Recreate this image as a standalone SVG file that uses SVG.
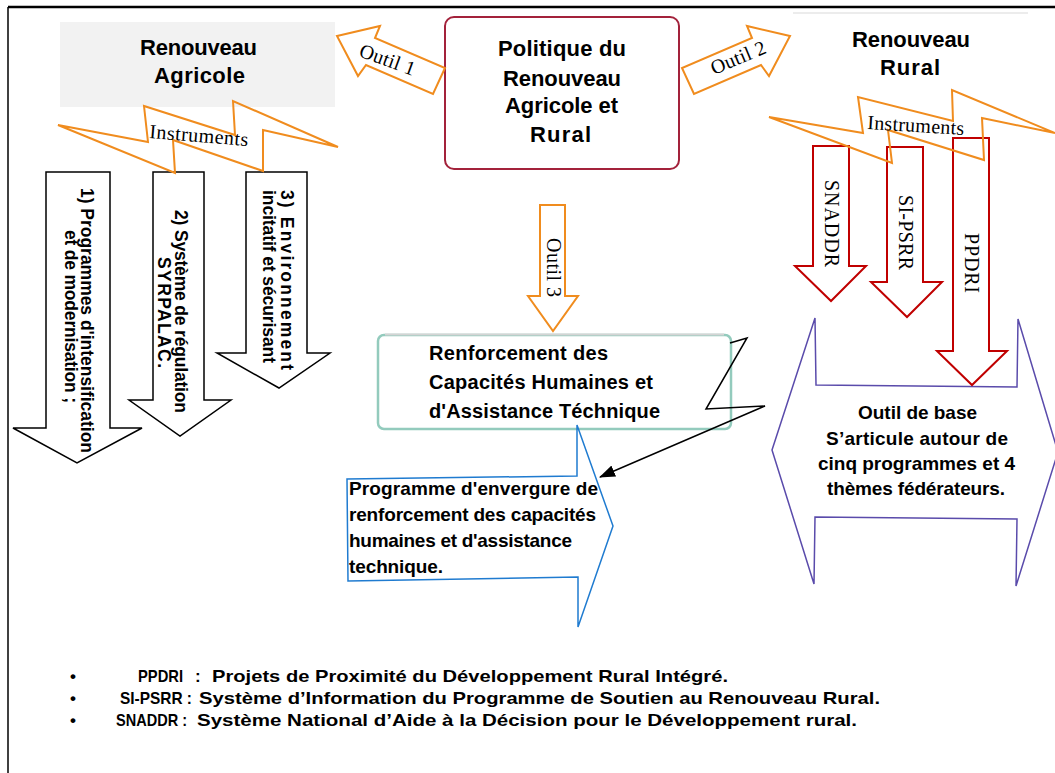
<svg xmlns="http://www.w3.org/2000/svg" width="1055" height="773" viewBox="0 0 1055 773">
<style>
.b{font-family:"Liberation Sans",Arial,sans-serif;font-weight:bold;fill:#000}
.t{font-family:"Liberation Serif","Times New Roman",serif;fill:#000;font-size:20px}
.or{fill:none;stroke:#f08c1e;stroke-width:2;stroke-linejoin:miter}
.orf{fill:#fff;stroke:#f08c1e;stroke-width:2}
.blk{fill:#fff;stroke:#000;stroke-width:1.5}
.red{fill:#fff;stroke:#c00000;stroke-width:2}
.h22{font-size:22px}
.h20{font-size:20px}
.h19{font-size:19px}
.v{font-size:17.5px}
.leg{font-size:17px}
</style>
<defs>
<marker id="ah" markerUnits="userSpaceOnUse" markerWidth="16" markerHeight="12" refX="15" refY="6" orient="auto">
<path d="M0,0 L16,6 L0,12 Z" fill="#000"/>
</marker>
</defs>
<rect x="0" y="0" width="1055" height="773" fill="#fff"/>
<g id="frame">
<line x1="8" y1="7" x2="1055" y2="7" stroke="#000" stroke-width="2.5"/>
<line x1="8" y1="7" x2="8" y2="773" stroke="#000" stroke-width="1.5"/>
</g>

<g id="renouveau-agricole">
<rect x="60" y="22" width="275" height="85" fill="#f2f2f2"/>
<text class="b h22" x="140" y="55" textLength="117">Renouveau</text>
<text class="b h22" x="154" y="83" textLength="91">Agricole</text>
</g>

<g id="politique">
<rect x="445" y="17" width="234" height="152" rx="9" fill="#fff" stroke="#a3223b" stroke-width="2"/>
<text class="b h22" x="498" y="56" textLength="128">Politique du</text>
<text class="b h22" x="503" y="86" textLength="118">Renouveau</text>
<text class="b h22" x="505" y="113" textLength="113">Agricole et</text>
<text class="b h22" x="530" y="142" textLength="61">Rural</text>
</g>

<g id="renouveau-rural">
<line x1="793" y1="13" x2="1028" y2="13" stroke="#d9d9d9" stroke-width="1"/>
<text class="b h22" x="852" y="47" textLength="118">Renouveau</text>
<text class="b h22" x="880" y="75" textLength="60">Rural</text>
</g>

<g id="arrow-1">
<path class="blk" d="M46,172 L110,172 L110,428 L142,428 L77,463 L13,428 L46,428 Z"/>
<text class="b v" transform="translate(81,188) rotate(90)" textLength="265">1) Programmes d'intensification</text>
<text class="b v" transform="translate(65,230) rotate(90)" textLength="173">et de modernisation ;</text>
</g>
<g id="arrow-2">
<path class="blk" d="M153,172 L204,172 L204,400 L231,400 L180,436 L129,400 L153,400 Z"/>
<text class="b v" transform="translate(175,210) rotate(90)" textLength="203">2) Système de régulation</text>
<text class="b v" transform="translate(158,257) rotate(90)" textLength="111">SYRPALAC.</text>
</g>
<g id="arrow-3">
<path class="blk" d="M246,172 L307,172 L307,353 L330,353 L279,388 L217,353 L246,353 Z"/>
<text class="b v" transform="translate(281,190) rotate(90)" textLength="180">3) Environnement</text>
<text class="b v" transform="translate(263,190) rotate(90)" textLength="173">incitatif et sécurisant</text>
</g>

<g id="outil-de-base">
<path d="M772,450 L815,318 L816,385 L1017,387 L1018,319 L1058,452 L1016,586 L1017,519 L815,517 L814,584 Z" fill="#fff" stroke="#5a4bab" stroke-width="1.5"/>
<text class="b h19" x="858" y="419" textLength="119">Outil de base</text>
<text class="b h19" x="826" y="445" textLength="182">S’articule autour de</text>
<text class="b h19" x="818" y="470" textLength="197">cinq programmes et 4</text>
<text class="b h19" x="827" y="495" textLength="178">thèmes fédérateurs.</text>
</g>

<g id="snaddr">
<path class="red" d="M813,146 L849,146 L849,266 L866,266 L831,301 L795,266 L813,266 Z"/>
<text class="t" transform="translate(825,180) rotate(90)" textLength="87">SNADDR</text>
</g>
<g id="si-psrr">
<path class="red" d="M887,147 L923,147 L923,282 L942,282 L907,317 L871,282 L887,282 Z"/>
<text class="t" transform="translate(899,195) rotate(90)" textLength="75">SI-PSRR</text>
</g>
<g id="ppdri">
<path class="red" d="M953,138 L989,138 L989,351 L1007,351 L972,385 L937,351 L953,351 Z"/>
<text class="t" transform="translate(965,233) rotate(90)" textLength="60">PPDRI</text>
</g>

<g id="renforcement">
<rect x="378" y="335" width="353" height="94" rx="6" fill="#fff" stroke="#93cbbd" stroke-width="2.5"/>
<line x1="385" y1="334.5" x2="724" y2="334.5" stroke="#d4d4d4" stroke-width="2"/>
<text class="b h20" x="429" y="360" textLength="179">Renforcement des</text>
<text class="b h20" x="429" y="389" textLength="224">Capacités Humaines et</text>
<text class="b h20" x="429" y="418" textLength="231">d'Assistance Téchnique</text>
</g>

<g id="programme">
<path d="M347,479 L577,476 L577,425 L613,526 L578,627 L578,577 L348,581 Z" fill="#fff" stroke="#1f7bd0" stroke-width="1.5"/>
<text class="b h19" x="349" y="495" textLength="249">Programme d'envergure de</text>
<text class="b h19" x="349" y="521" textLength="247">renforcement des capacités</text>
<text class="b h19" x="349" y="547" textLength="223">humaines et d'assistance</text>
<text class="b h19" x="349" y="573" textLength="94">technique.</text>
</g>

<g id="connectors">
<path class="orf" d="M337,36 L380,26 L375,38 L445,68 L433,94 L366,65 L358,76 Z"/>
<text class="t" transform="translate(358,56) rotate(20)" textLength="58">Outil 1</text>
<path class="orf" d="M790,36 L747,26 L752,38 L682,68 L694,94 L761,65 L769,76 Z"/>
<text class="t" transform="translate(714,75) rotate(-22.7)" textLength="58">Outil 2</text>
<path class="orf" d="M540,205 L565,205 L565,296 L578,296 L553,331 L528,296 L540,296 Z"/>
<text class="t" transform="translate(547,238) rotate(90)" textLength="59">Outil 3</text>
<path class="or" d="M58,125 L148,142 L144,106 L235,135 L233,101 L338,147 L263,130 L263,171 L173,140 L175,173 Z"/>
<text class="t" transform="translate(149,138) rotate(4.7)" textLength="99">Instruments</text>
<path class="or" d="M769,117 L863,133 L858,97 L953,121 L952,90 L1055,133 L982,118 L984,160 L888,130 L892,163 Z"/>
<text class="t" transform="translate(867,129) rotate(3.5)" textLength="97">Instruments</text>
<polyline points="730,343 747,338 706,409 765,406 600,477" fill="none" stroke="#000" stroke-width="1.5" marker-end="url(#ah)"/>
</g>

<g id="legend">
<text class="b leg" x="70" y="682">•</text>
<text class="b leg" x="138" y="682" textLength="45" lengthAdjust="spacingAndGlyphs">PPDRI</text>
<text class="b leg" x="195" y="682">:</text>
<text class="b leg" x="212" y="682" textLength="516" lengthAdjust="spacingAndGlyphs">Projets de Proximité du Développement Rural Intégré.</text>
<text class="b leg" x="70" y="704">•</text>
<text class="b leg" x="120" y="704" textLength="72" lengthAdjust="spacingAndGlyphs">SI-PSRR :</text>
<text class="b leg" x="199" y="704" textLength="681" lengthAdjust="spacingAndGlyphs">Système d’Information du Programme de Soutien au Renouveau Rural.</text>
<text class="b leg" x="70" y="726">•</text>
<text class="b leg" x="116" y="726" textLength="71" lengthAdjust="spacingAndGlyphs">SNADDR :</text>
<text class="b leg" x="197" y="726" textLength="660" lengthAdjust="spacingAndGlyphs">Système National d’Aide à la Décision pour le Développement rural.</text>
</g>
</svg>
